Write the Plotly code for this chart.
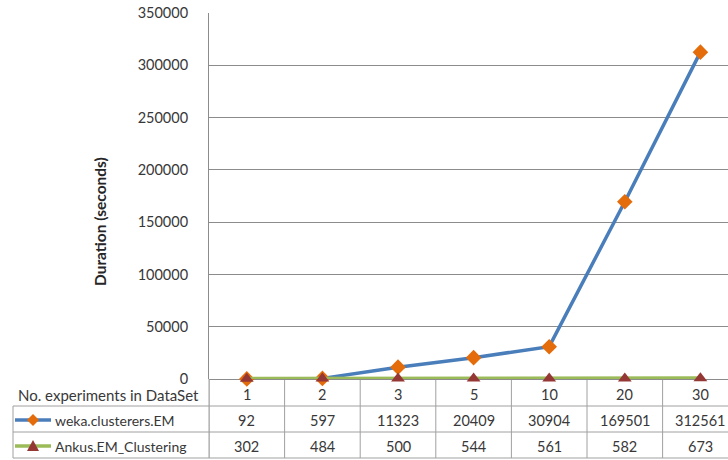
import plotly.graph_objects as go

categories = ["1", "2", "3", "5", "10", "20", "30"]
weka_values = [92, 597, 11323, 20409, 30904, 169501, 312561]
ankus_values = [302, 484, 500, 544, 561, 582, 673]
series_names = ["weka.clusterers.EM", "Ankus.EM_Clustering"]
y_ticks = [0, 50000, 100000, 150000, 200000, 250000, 300000, 350000]
header_label = "No. experiments in DataSet"
y_title = "Duration (seconds)"

W, H = 728, 460
L, R, T, B = 209, 0, 13, 81
PW, PH = W - L - R, H - T - B
BAND = 75.6
X_RANGE = [-0.5, (W - L) / BAND - 0.5]

FONT = "Lato"
TXT = "#383838"
GRID = "#8c8c8c"
TBL = "#a0a0a0"
BLUE = "#4a7ebb"
GREEN = "#9bbb59"
ORANGE = "#e46c0a"
DRED = "#953735"


def xp(px):
    return (px - L) / PW


def yp(py):
    return (H - B - py) / PH


def ann(x, y, text, xref="paper", size=14.5, xanchor="center", **kw):
    d = dict(x=x, y=y, xref=xref, yref="paper", text=text, showarrow=False,
             xanchor=xanchor, yanchor="middle",
             font=dict(family=FONT, size=size, color=kw.pop("color", TXT)))
    d.update(kw)
    return d


xs = list(range(len(categories)))

fig = go.Figure()
fig.add_trace(go.Scatter(
    x=xs, y=weka_values, mode="lines+markers", name=series_names[0],
    line=dict(color=BLUE, width=3.5),
    marker=dict(symbol="diamond", size=12, color=ORANGE),
    cliponaxis=False, showlegend=False))
fig.add_trace(go.Scatter(
    x=xs, y=ankus_values, mode="lines+markers", name=series_names[1],
    line=dict(color=GREEN, width=4),
    marker=dict(symbol="triangle-up", size=12, color=DRED),
    cliponaxis=False, showlegend=False))

shapes = []
row_lines = [406, 432, 458]
for py in row_lines:
    shapes.append(dict(type="line", xref="paper", yref="paper",
                       x0=xp(13), x1=1, y0=yp(py), y1=yp(py),
                       line=dict(color=TBL, width=1), layer="below"))
for i in range(len(categories)):
    shapes.append(dict(type="line", xref="x", yref="paper",
                       x0=i - 0.5, x1=i - 0.5, y0=yp(379), y1=yp(458),
                       line=dict(color=TBL, width=1), layer="below"))
shapes.append(dict(type="line", xref="paper", yref="paper",
                   x0=xp(13), x1=xp(13), y0=yp(406), y1=yp(458),
                   line=dict(color=TBL, width=1), layer="below"))

annotations = []
row_y = [394, 420, 446]
for i, c in enumerate(categories):
    annotations.append(ann(i, yp(row_y[0]), c, xref="x"))
    annotations.append(ann(i, yp(row_y[1]), str(weka_values[i]), xref="x"))
    annotations.append(ann(i, yp(row_y[2]), str(ankus_values[i]), xref="x"))

annotations.append(ann(xp(108), yp(row_y[0] + 1), header_label, size=15))

key_specs = [(series_names[0], BLUE, ORANGE, "diamond"),
             (series_names[1], GREEN, DRED, "triangle")]
for k, (name, lc, mc, sym) in enumerate(key_specs):
    ky = row_y[k + 1]
    shapes.append(dict(type="line", xref="paper", yref="paper",
                       x0=xp(15), x1=xp(51), y0=yp(ky), y1=yp(ky),
                       line=dict(color=lc, width=3.5)))
    if sym == "diamond":
        path = "M 0 6 L 6 0 L 0 -6 L -6 0 Z"
    else:
        path = "M 0 6 L 6 -5 L -6 -5 Z"
    shapes.append(dict(type="path", xref="paper", yref="paper",
                       xsizemode="pixel", ysizemode="pixel",
                       xanchor=xp(33), yanchor=yp(ky), path=path,
                       fillcolor=mc, line=dict(width=0)))
    annotations.append(ann(xp(53), yp(ky), name, xanchor="left", size=14))

annotations.append(ann(xp(100), yp(222), "<b>" + y_title + "</b>",
                       size=15.5, textangle=-90, color="#262626"))

fig.update_layout(
    width=W, height=H, margin=dict(l=L, r=R, t=T, b=B),
    paper_bgcolor="white", plot_bgcolor="white",
    shapes=shapes, annotations=annotations,
    xaxis=dict(range=X_RANGE, showticklabels=False, showgrid=False,
               zeroline=False, showline=False, fixedrange=True),
    yaxis=dict(range=[0, 350000], tickvals=y_ticks,
               ticktext=[str(v) for v in y_ticks],
               showgrid=True, gridcolor=GRID, gridwidth=1,
               zeroline=True, zerolinecolor=GRID, zerolinewidth=1,
               showline=True, linecolor=GRID, linewidth=1,
               ticks="", ticklabelstandoff=17,
               tickfont=dict(family=FONT, size=14.5, color=TXT)),
)
fig.add_shape(type="line", xref="paper", yref="paper", x0=0, x1=0,
              y0=yp(379), y1=yp(458), line=dict(color=TBL, width=1))

fig.write_html("out.html")
